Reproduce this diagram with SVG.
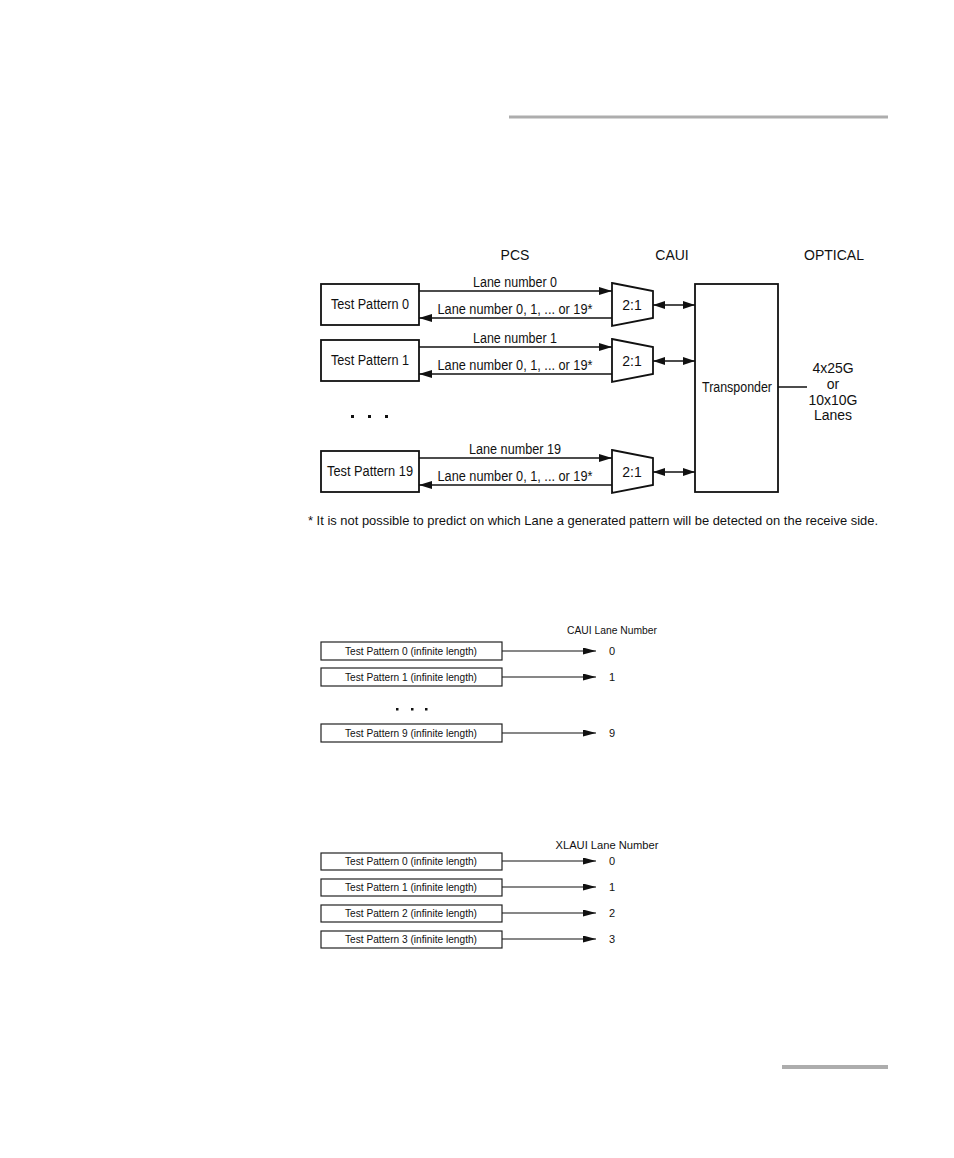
<svg xmlns="http://www.w3.org/2000/svg" width="954" height="1158" viewBox="0 0 954 1158">
<style>
text{font-family:"Liberation Sans",Arial,sans-serif;fill:#111}
.box{fill:#fff;stroke:#111;stroke-width:1.8}
.sbox{fill:#fff;stroke:#222;stroke-width:1.2}
.ln{stroke:#111;stroke-width:1.5;fill:none}
.sln{stroke:#111;stroke-width:1.2;fill:none}
.t14{font-size:14px}
.t13{font-size:14px}
.t11{font-size:11px}
.mid{text-anchor:middle}
.rule{stroke:#adadad;fill:none}
</style>
<defs>
<marker id="ah" markerUnits="userSpaceOnUse" markerWidth="13" markerHeight="8" refX="13" refY="4" orient="auto"><path d="M0,0 L13,4 L0,8 z" fill="#111"/></marker>
<marker id="bh" markerUnits="userSpaceOnUse" markerWidth="12" markerHeight="8" refX="12" refY="4" orient="auto-start-reverse"><path d="M0,0 L12,4 L0,8 z" fill="#111"/></marker>
<marker id="sh" markerUnits="userSpaceOnUse" markerWidth="13" markerHeight="7" refX="13" refY="3.5" orient="auto"><path d="M0,0 L13,3.5 L0,7 z" fill="#111"/></marker>
</defs>

<g id="page-rules">
<line class="rule" x1="509" y1="117" x2="888" y2="117" stroke-width="3"/>
<line class="rule" x1="782" y1="1067" x2="888" y2="1067" stroke-width="4"/>
</g>

<g id="headers">
<text class="t14 mid" x="515" y="260">PCS</text>
<text class="t14 mid" x="672" y="260">CAUI</text>
<text class="t14 mid" x="834" y="260">OPTICAL</text>
</g>

<g id="tp0"><rect class="box" x="321" y="284" width="98" height="41"/><text class="t14 mid" x="370" y="309" textLength="78" lengthAdjust="spacingAndGlyphs">Test Pattern 0</text></g>
<g id="tp1"><rect class="box" x="321" y="340" width="98" height="41"/><text class="t14 mid" x="370" y="365" textLength="78" lengthAdjust="spacingAndGlyphs">Test Pattern 1</text></g>
<g id="tp19"><rect class="box" x="321" y="451" width="98" height="41"/><text class="t14 mid" x="370" y="476" textLength="86" lengthAdjust="spacingAndGlyphs">Test Pattern 19</text></g>

<g id="mux0"><path class="box" d="M612,283 L653,291 L653,318 L612,326 z"/><text class="t14 mid" x="632" y="310">2:1</text></g>
<g id="mux1"><path class="box" d="M612,339 L653,347 L653,374 L612,382 z"/><text class="t14 mid" x="632" y="366">2:1</text></g>
<g id="mux19"><path class="box" d="M612,450 L653,458 L653,485 L612,493 z"/><text class="t14 mid" x="632" y="477">2:1</text></g>

<g id="transponder"><rect class="box" x="695" y="284" width="83" height="208"/><text class="t14 mid" x="737" y="392" textLength="70" lengthAdjust="spacingAndGlyphs">Transponder</text></g>

<g id="optical-label">
<text class="t14 mid" x="833" y="373">4x25G</text>
<text class="t14 mid" x="833" y="389">or</text>
<text class="t14 mid" x="833" y="405">10x10G</text>
<text class="t14 mid" x="833" y="420">Lanes</text>
</g>

<g id="dots1" fill="#111">
<rect x="351" y="415" width="3" height="3"/><rect x="368" y="415" width="3" height="3"/><rect x="385" y="415" width="3" height="3"/>
</g>

<g id="connectors">
<line class="ln" x1="419" y1="291" x2="612" y2="291" marker-end="url(#ah)"/>
<line class="ln" x1="612" y1="318" x2="419" y2="318" marker-end="url(#ah)"/>
<line class="ln" x1="419" y1="347" x2="612" y2="347" marker-end="url(#ah)"/>
<line class="ln" x1="612" y1="374" x2="419" y2="374" marker-end="url(#ah)"/>
<line class="ln" x1="419" y1="458" x2="612" y2="458" marker-end="url(#ah)"/>
<line class="ln" x1="612" y1="485" x2="419" y2="485" marker-end="url(#ah)"/>
<line class="ln" x1="653" y1="305" x2="695" y2="305" marker-start="url(#bh)" marker-end="url(#bh)"/>
<line class="ln" x1="653" y1="361" x2="695" y2="361" marker-start="url(#bh)" marker-end="url(#bh)"/>
<line class="ln" x1="653" y1="472" x2="695" y2="472" marker-start="url(#bh)" marker-end="url(#bh)"/>
<line class="ln" x1="778" y1="387" x2="807" y2="387"/>

<line class="sln" x1="502" y1="651" x2="596" y2="651" marker-end="url(#sh)"/>
<line class="sln" x1="502" y1="677" x2="596" y2="677" marker-end="url(#sh)"/>
<line class="sln" x1="502" y1="733" x2="596" y2="733" marker-end="url(#sh)"/>

<line class="sln" x1="502" y1="861" x2="596" y2="861" marker-end="url(#sh)"/>
<line class="sln" x1="502" y1="887" x2="596" y2="887" marker-end="url(#sh)"/>
<line class="sln" x1="502" y1="913" x2="596" y2="913" marker-end="url(#sh)"/>
<line class="sln" x1="502" y1="939" x2="596" y2="939" marker-end="url(#sh)"/>
</g>

<g id="lane-labels">
<text class="t13 mid" x="515" y="287" textLength="84" lengthAdjust="spacingAndGlyphs">Lane number 0</text>
<text class="t13 mid" x="515" y="314" textLength="155" lengthAdjust="spacingAndGlyphs">Lane number 0, 1, ... or 19*</text>
<text class="t13 mid" x="515" y="343" textLength="84" lengthAdjust="spacingAndGlyphs">Lane number 1</text>
<text class="t13 mid" x="515" y="370" textLength="155" lengthAdjust="spacingAndGlyphs">Lane number 0, 1, ... or 19*</text>
<text class="t13 mid" x="515" y="454" textLength="92" lengthAdjust="spacingAndGlyphs">Lane number 19</text>
<text class="t13 mid" x="515" y="481" textLength="155" lengthAdjust="spacingAndGlyphs">Lane number 0, 1, ... or 19*</text>
</g>

<g id="footnote">
<text x="308" y="525" font-size="13.5" textLength="570" lengthAdjust="spacingAndGlyphs">* It is not possible to predict on which Lane a generated pattern will be detected on the receive side.</text>
</g>

<g id="caui">
<text class="t11 mid" x="612" y="634" textLength="90" lengthAdjust="spacingAndGlyphs">CAUI Lane Number</text>
<g id="caui-tp0"><rect class="sbox" x="321" y="642" width="181" height="18"/><text class="t11 mid" x="411" y="655" textLength="132" lengthAdjust="spacingAndGlyphs">Test Pattern 0 (infinite length)</text></g>
<g id="caui-tp1"><rect class="sbox" x="321" y="668" width="181" height="18"/><text class="t11 mid" x="411" y="681" textLength="132" lengthAdjust="spacingAndGlyphs">Test Pattern 1 (infinite length)</text></g>
<g id="caui-tp9"><rect class="sbox" x="321" y="724" width="181" height="18"/><text class="t11 mid" x="411" y="737" textLength="132" lengthAdjust="spacingAndGlyphs">Test Pattern 9 (infinite length)</text></g>
<text class="t11 mid" x="612" y="655">0</text>
<text class="t11 mid" x="612" y="681">1</text>
<text class="t11 mid" x="612" y="737">9</text>
<g id="dots2" fill="#111"><rect x="396" y="708" width="2.5" height="2.5"/><rect x="411" y="708" width="2.5" height="2.5"/><rect x="425" y="708" width="2.5" height="2.5"/></g>
</g>

<g id="xlaui">
<text class="t11 mid" x="607" y="849" textLength="103" lengthAdjust="spacingAndGlyphs">XLAUI Lane Number</text>
<g id="xlaui-tp0"><rect class="sbox" x="321" y="853" width="181" height="17"/><text class="t11 mid" x="411" y="865" textLength="132" lengthAdjust="spacingAndGlyphs">Test Pattern 0 (infinite length)</text></g>
<g id="xlaui-tp1"><rect class="sbox" x="321" y="879" width="181" height="17"/><text class="t11 mid" x="411" y="891" textLength="132" lengthAdjust="spacingAndGlyphs">Test Pattern 1 (infinite length)</text></g>
<g id="xlaui-tp2"><rect class="sbox" x="321" y="905" width="181" height="17"/><text class="t11 mid" x="411" y="917" textLength="132" lengthAdjust="spacingAndGlyphs">Test Pattern 2 (infinite length)</text></g>
<g id="xlaui-tp3"><rect class="sbox" x="321" y="931" width="181" height="17"/><text class="t11 mid" x="411" y="943" textLength="132" lengthAdjust="spacingAndGlyphs">Test Pattern 3 (infinite length)</text></g>
<text class="t11 mid" x="612" y="865">0</text>
<text class="t11 mid" x="612" y="891">1</text>
<text class="t11 mid" x="612" y="917">2</text>
<text class="t11 mid" x="612" y="943">3</text>
</g>
</svg>
